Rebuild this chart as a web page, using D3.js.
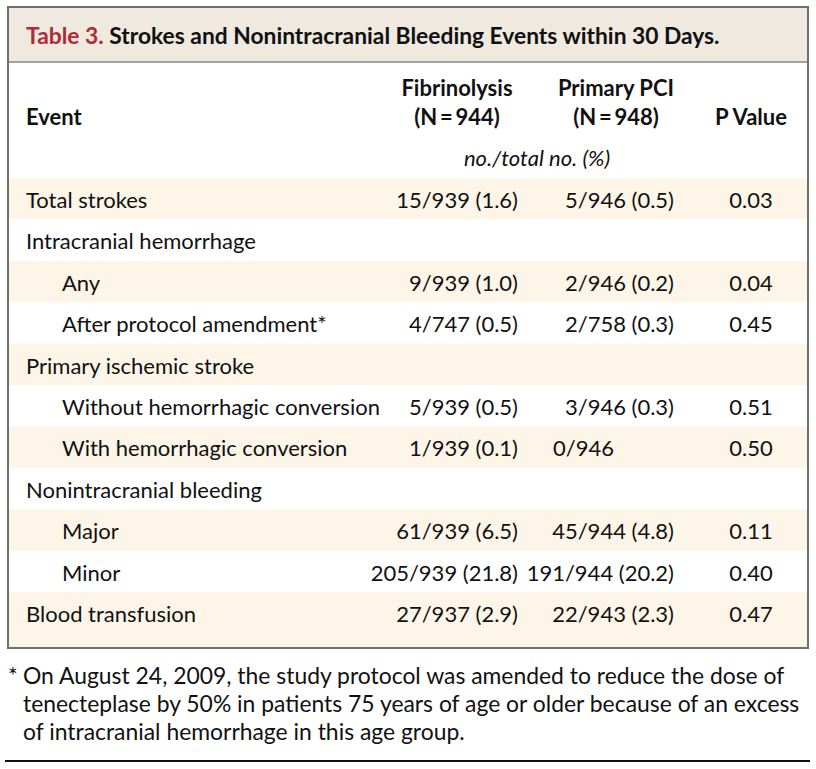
<!DOCTYPE html>
<html><head><meta charset="utf-8">
<script src="https://cdn.jsdelivr.net/npm/d3@7"></script>
<style>body{margin:0;background:#fff}svg{display:block}</style>
</head><body><svg id="c" width="816" height="769"></svg>
<script>
const titleLabel = "Table 3.";
const titleText = "Strokes and Nonintracranial Bleeding Events within 30 Days.";
const colHeaders = [["Event"], ["Fibrinolysis", "(N\u2009=\u2009944)"], ["Primary PCI", "(N\u2009=\u2009948)"], ["P Value"]];
const unitLabel = "no./total no. (%)";
const events = ["Total strokes","Intracranial hemorrhage","Any","After protocol amendment*","Primary ischemic stroke","Without hemorrhagic conversion","With hemorrhagic conversion","Nonintracranial bleeding","Major","Minor","Blood transfusion"];
const indent = [0,0,1,1,0,1,1,0,1,1,0];
const fibrinolysis = ["15/939 (1.6)","","9/939 (1.0)","4/747 (0.5)","","5/939 (0.5)","1/939 (0.1)","","61/939 (6.5)","205/939 (21.8)","27/937 (2.9)"];
const primaryPCI = ["5/946 (0.5)","","2/946 (0.2)","2/758 (0.3)","","3/946 (0.3)","0/946","","45/944 (4.8)","191/944 (20.2)","22/943 (2.3)"];
const pValues = ["0.03","","0.04","0.45","","0.51","0.50","","0.11","0.40","0.47"];
const footnote = ["On August 24, 2009, the study protocol was amended to reduce the dose of","tenecteplase by 50% in patients 75 years of age or older because of an excess","of intracranial hemorrhage in this age group."];

const svg = d3.select("#c");
const FONT = "Lato, 'Open Sans', sans-serif";
const FS = 22;
const L = 8, R = 808, T = 7, B = 648;

// title band
svg.append("rect").attr("x",L).attr("y",T).attr("width",R-L).attr("height",55).attr("fill","#efe9e0");
svg.append("line").attr("x1",L).attr("x2",R).attr("y1",62).attr("y2",62).attr("stroke","#8a8580").attr("stroke-width",1.5);

const y = d3.scaleBand().domain(d3.range(events.length)).range([178, 178+41.4*events.length]);
// row shading
svg.selectAll("rect.row").data(events).join("rect").attr("class","row")
  .attr("x",L).attr("width",R-L)
  .attr("y",(d,i)=>y(i))
  .attr("height",(d,i)=> i===events.length-1 ? B - y(i) : y.bandwidth())
  .attr("fill",(d,i)=> i%2===0 ? "#fdf5e8" : "none");

// border
svg.append("rect").attr("x",L).attr("y",T).attr("width",R-L).attr("height",B-T)
  .attr("fill","none").attr("stroke","#6f6f6f").attr("stroke-width",2);

// title
const tt = svg.append("text").attr("x",26).attr("y",44).attr("font-family",FONT).attr("font-size",22.8).attr("font-weight","bold");
tt.append("tspan").attr("fill","#b12a36").text(titleLabel+" ");
tt.append("tspan").attr("fill","#111").text(titleText);

const colX = d3.scaleOrdinal().domain([0,1,2,3]).range([26, 457, 616, 751]);
// headers
colHeaders.forEach((lines,ci)=>{
  const n = lines.length;
  lines.forEach((ln,li)=>{
    svg.append("text").attr("x",colX(ci)).attr("y",125 - (n-1-li)*29)
      .attr("text-anchor", ci===0 ? "start" : "middle")
      .attr("font-family",FONT).attr("font-size",FS).attr("font-weight","bold").attr("fill","#111").text(ln);
  });
});
svg.append("text").attr("x",537).attr("y",166).attr("text-anchor","middle").attr("font-family",FONT)
  .attr("font-size",FS).attr("font-style","italic").attr("fill","#111").text(unitLabel);

const base = i => y(i) + 30;
svg.selectAll("text.ev").data(events).join("text").attr("class","ev")
  .attr("x",(d,i)=>26 + indent[i]*36).attr("y",(d,i)=>base(i))
  .attr("font-family",FONT).attr("font-size",FS).attr("fill","#111").text(d=>d);
svg.selectAll("text.fib").data(fibrinolysis).join("text").attr("class","fib")
  .attr("x",518).attr("y",(d,i)=>base(i)).attr("text-anchor","end")
  .attr("font-family",FONT).attr("font-size",FS).attr("fill","#111").text(d=>d);
svg.selectAll("text.pci").data(primaryPCI).join("text").attr("class","pci")
  .attr("x",d=> d.includes("(") ? 674 : 553).attr("y",(d,i)=>base(i))
  .attr("text-anchor",d=> d.includes("(") ? "end" : "start")
  .attr("font-family",FONT).attr("font-size",FS).attr("fill","#111").text(d=>d);
svg.selectAll("text.pv").data(pValues).join("text").attr("class","pv")
  .attr("x",751).attr("y",(d,i)=>base(i)).attr("text-anchor","middle")
  .attr("font-family",FONT).attr("font-size",FS).attr("fill","#111").text(d=>d);

// footnote
const FFS = 22.9;
svg.append("text").attr("x",8).attr("y",684).attr("font-family",FONT).attr("font-size",FFS).attr("fill","#111").text("*");
svg.selectAll("text.fn").data(footnote).join("text").attr("class","fn")
  .attr("x",23).attr("y",(d,i)=>684 + i*28).attr("font-family",FONT).attr("font-size",FFS).attr("fill","#111").text(d=>d);
svg.append("line").attr("x1",5).attr("x2",810).attr("y1",761).attr("y2",761).attr("stroke","#111").attr("stroke-width",2);
</script></body></html>
